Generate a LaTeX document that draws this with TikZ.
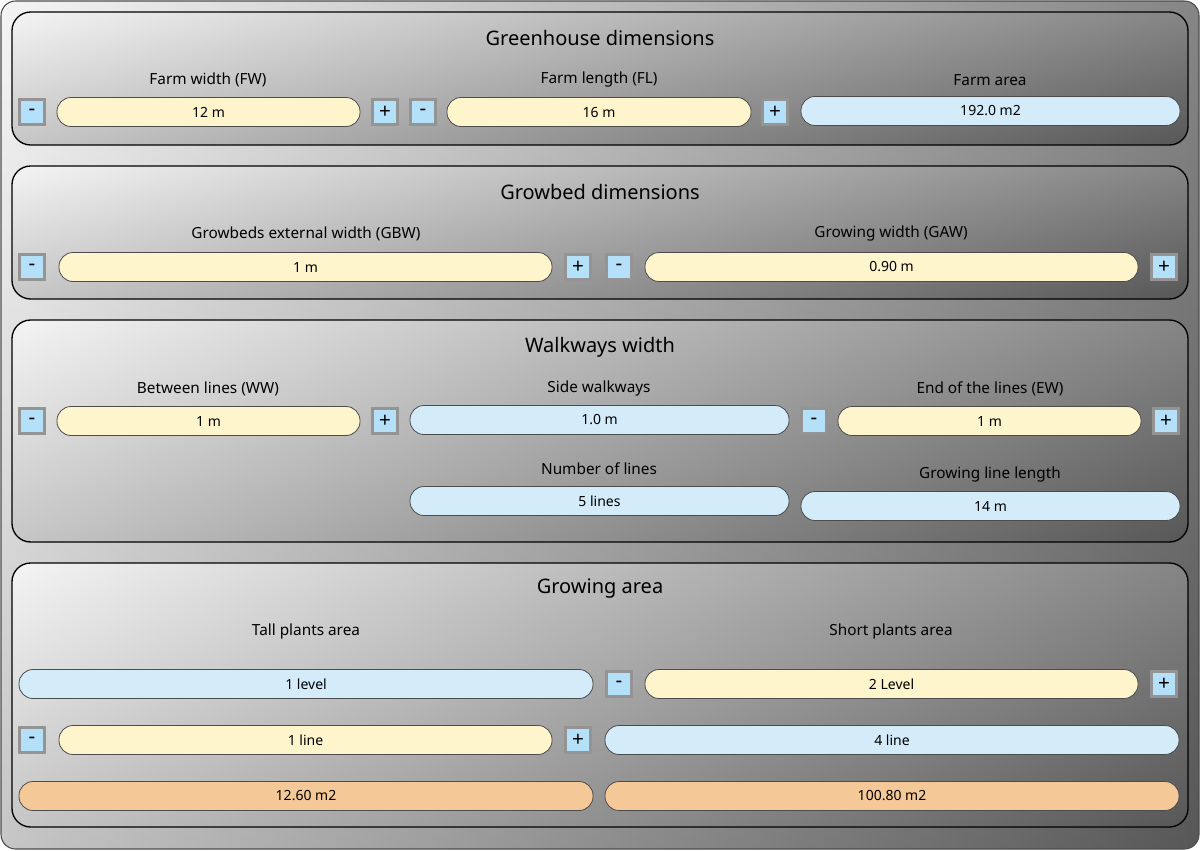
\documentclass[tikz,border=0pt]{standalone}
\usepackage{fontspec}
\setmainfont{Noto Sans}
\begin{document}
\begin{tikzpicture}[x=0.75pt,y=-0.75pt,
  panel/.style={draw=black,line width=1pt,rounded corners=14pt},
  field/.style={draw=black!70,line width=0.6pt,rounded corners=10.5pt,inner sep=0pt,font=\fontsize{10.5}{12}\selectfont},
  yel/.style={field,fill=yellowf},
  blu/.style={field,fill=bluef},
  ora/.style={field,fill=orangef},
  btn/.style={draw=black!42,line width=2.4pt,fill=btnf,minimum width=18.5pt,minimum height=18.5pt,inner sep=0pt,font=\bfseries\fontsize{15.5}{16}\selectfont},
  lab/.style={font=\fontsize{11.5}{13}\selectfont},
  ttl/.style={font=\fontsize{15}{16}\selectfont}]
\definecolor{yellowf}{HTML}{FEF5CD}
\definecolor{bluef}{HTML}{D4EBFA}
\definecolor{orangef}{HTML}{F5C898}
\definecolor{btnf}{HTML}{B5E0FA}
\newcommand{\F}[7]{\node[#6,minimum width={(#3-#2)*0.75pt},minimum height={#5*0.75pt}] (#1) at ({(#2+#3)/2},#4) {#7};}
\newcommand{\Shd}[5]{%
  \shade[rounded corners=#5,left color=black!5,right color=black!58] (#1,#2) rectangle (#3,#4);
  \shade[rounded corners=#5,top color=white,bottom color=black,opacity=0.18] (#1,#2) rectangle (#3,#4);}
\useasboundingbox (0,0) rectangle (1200,850);
\Shd{1}{1}{1199}{849}{11pt}
\draw[rounded corners=11pt,draw=black!70,line width=0.8pt] (1,1) rectangle (1199,849);
% panels
\Shd{12}{12}{1188}{145}{14pt}
\Shd{12}{166}{1188}{299}{14pt}
\Shd{12}{320}{1188}{542}{14pt}
\Shd{12}{563}{1188}{827}{14pt}
\draw[panel] (12,12) rectangle (1188,145);
\draw[panel] (12,166) rectangle (1188,299);
\draw[panel] (12,320) rectangle (1188,542);
\draw[panel] (12,563) rectangle (1188,827);
% panel 1
\node[ttl] (t1) at (600,38) {Greenhouse dimensions};
\node[lab] (l1a) at (208,80) {Farm width (FW)};
\node[lab] (l1b) at (599,80) {Farm length (FL)};
\node[lab] (l1c) at (990,80) {Farm area};
\node[btn] (b1a) at (32,112) {-};
\F{f1a}{57}{360}{112}{29}{yel}{12 m}
\node[btn] (b1b) at (385,112) {+};
\node[btn] (b1c) at (423,112) {-};
\F{f1b}{447}{751}{112}{29}{yel}{16 m}
\node[btn] (b1d) at (775,112) {+};
\F{f1c}{801}{1180}{111}{29}{blu}{192.0 m2}
% panel 2
\node[ttl] (t2) at (600,192) {Growbed dimensions};
\node[lab] (l2a) at (306,234) {Growbeds external width (GBW)};
\node[lab] (l2b) at (891,234) {Growing width (GAW)};
\node[btn] (b2a) at (32,267) {-};
\F{f2a}{59}{552}{267}{29}{yel}{1 m}
\node[btn] (b2b) at (578,267) {+};
\node[btn] (b2c) at (619,267) {-};
\F{f2b}{645}{1138}{267}{29}{yel}{0.90 m}
\node[btn] (b2d) at (1164,267) {+};
% panel 3
\node[ttl] (t3) at (600,347) {Walkways width};
\node[lab] (l3a) at (208,389) {Between lines (WW)};
\node[lab] (l3b) at (599,389) {Side walkways};
\node[lab] (l3c) at (990,389) {End of the lines (EW)};
\node[btn] (b3a) at (32,421) {-};
\F{f3a}{57}{360}{421}{29}{yel}{1 m}
\node[btn] (b3b) at (385,421) {+};
\F{f3b}{410}{789}{420}{29}{blu}{1.0 m}
\node[btn] (b3c) at (814,421) {-};
\F{f3c}{838}{1141}{421}{29}{yel}{1 m}
\node[btn] (b3d) at (1166,421) {+};
\node[lab] (l3d) at (599,469) {Number of lines};
\F{f3d}{410}{789}{501}{29}{blu}{5 lines}
\node[lab] (l3e) at (990,475) {Growing line length};
\F{f3e}{801}{1180}{506}{29}{blu}{14 m}
% panel 4
\node[ttl] (t4) at (600,589) {Growing area};
\node[lab] (l4a) at (306,632) {Tall plants area};
\node[lab] (l4b) at (891,632) {Short plants area};
\F{f4a}{19}{593}{684}{29}{blu}{1 level}
\node[btn] (b4a) at (619,684) {-};
\F{f4b}{645}{1138}{684}{29}{yel}{2 Level}
\node[btn] (b4b) at (1164,684) {+};
\node[btn] (b4c) at (32,740) {-};
\F{f4c}{59}{552}{740}{29}{yel}{1 line}
\node[btn] (b4d) at (578,740) {+};
\F{f4d}{605}{1179}{740}{29}{blu}{4 line}
\F{f4e}{19}{593}{796}{29}{ora}{12.60 m2}
\F{f4f}{605}{1179}{796}{29}{ora}{100.80 m2}
\end{tikzpicture}
\end{document}
